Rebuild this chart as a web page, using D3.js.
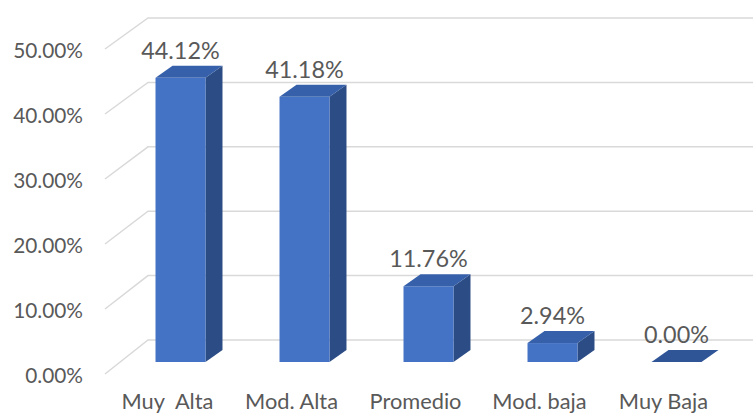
<!DOCTYPE html>
<html><head><meta charset="utf-8">
<script src="https://cdn.jsdelivr.net/npm/d3@7/dist/d3.min.js"></script>
<style>body{margin:0;background:#fff}svg{display:block}</style>
</head><body>
<svg id="c" width="753" height="414"></svg>
<script>
const categories = ["Muy  Alta", "Mod. Alta", "Promedio", "Mod. baja", "Muy Baja"];
const values = [0.4412, 0.4118, 0.1176, 0.0294, 0.0000];
const valueLabels = ["44.12%", "41.18%", "11.76%", "2.94%", "0.00%"];
const tickValues = [0, 0.1, 0.2, 0.3, 0.4, 0.5];
const tickLabels = ["0.00%", "10.00%", "20.00%", "30.00%", "40.00%", "50.00%"];

const svg = d3.select("#c");
const font = "Lato, 'Open Sans', sans-serif";
const textColor = "#595959";
const DX = 17, DY = -12;

const yFront = d3.scaleLinear().domain([0, 0.5]).range([374, 49]);
const yBack = d3.scaleLinear().domain([0, 0.5]).range([340, 18]);
const yBar = d3.scaleLinear().domain([0, 0.5]).range([362, 40]);
const x = d3.scaleBand().domain(categories).range([118.5, 738.5])
  .paddingInner(0.597).paddingOuter(0.2985);

// gridlines
const grid = svg.append("g");
tickValues.forEach((t, i) => {
  grid.append("path")
    .attr("d", `M105,${yFront(t)}L148,${yBack(t)}L753,${yBack(t)}`)
    .attr("fill", "none").attr("stroke", "#D9D9D9").attr("stroke-width", 1.5);
  svg.append("text").attr("x", 83).attr("y", yFront(t) + 9)
    .attr("text-anchor", "end").attr("font-family", font).attr("font-size", 20.8)
    .attr("fill", textColor).text(tickLabels[i]);
});

// bars
const bars = svg.append("g");
categories.forEach((c, i) => {
  const x0 = x(c), w = x.bandwidth(), x1 = x0 + w;
  const yt = yBar(values[i]), yb = yBar(0);
  // side
  bars.append("path")
    .attr("d", `M${x1},${yt}L${x1 + DX},${yt + DY}L${x1 + DX},${yb + DY}L${x1},${yb}Z`)
    .attr("fill", "#2C4C85");
  // front
  if (yb - yt > 0.5) {
    bars.append("rect").attr("x", x0).attr("y", yt).attr("width", w).attr("height", yb - yt)
      .attr("fill", "#4472C4");
  }
  // top
  bars.append("path")
    .attr("d", `M${x0},${yt}L${x0 + DX},${yt + DY}L${x1 + DX},${yt + DY}L${x1},${yt}Z`)
    .attr("fill", values[i] > 0 ? "#3660AA" : "#2F5597");
  // value label
  svg.append("text").attr("x", x0 + w / 2).attr("y", yt + DY - 7)
    .attr("text-anchor", "middle").attr("font-family", font).attr("font-size", 23.4)
    .attr("fill", textColor).text(valueLabels[i]);
  // category label
  svg.append("text").attr("x", x0 + w / 2 - 13).attr("y", 409)
    .attr("text-anchor", "middle").attr("font-family", font).attr("font-size", 21.8)
    .attr("fill", textColor).attr("xml:space", "preserve").style("white-space", "pre").text(c);
});
</script>
</body></html>
